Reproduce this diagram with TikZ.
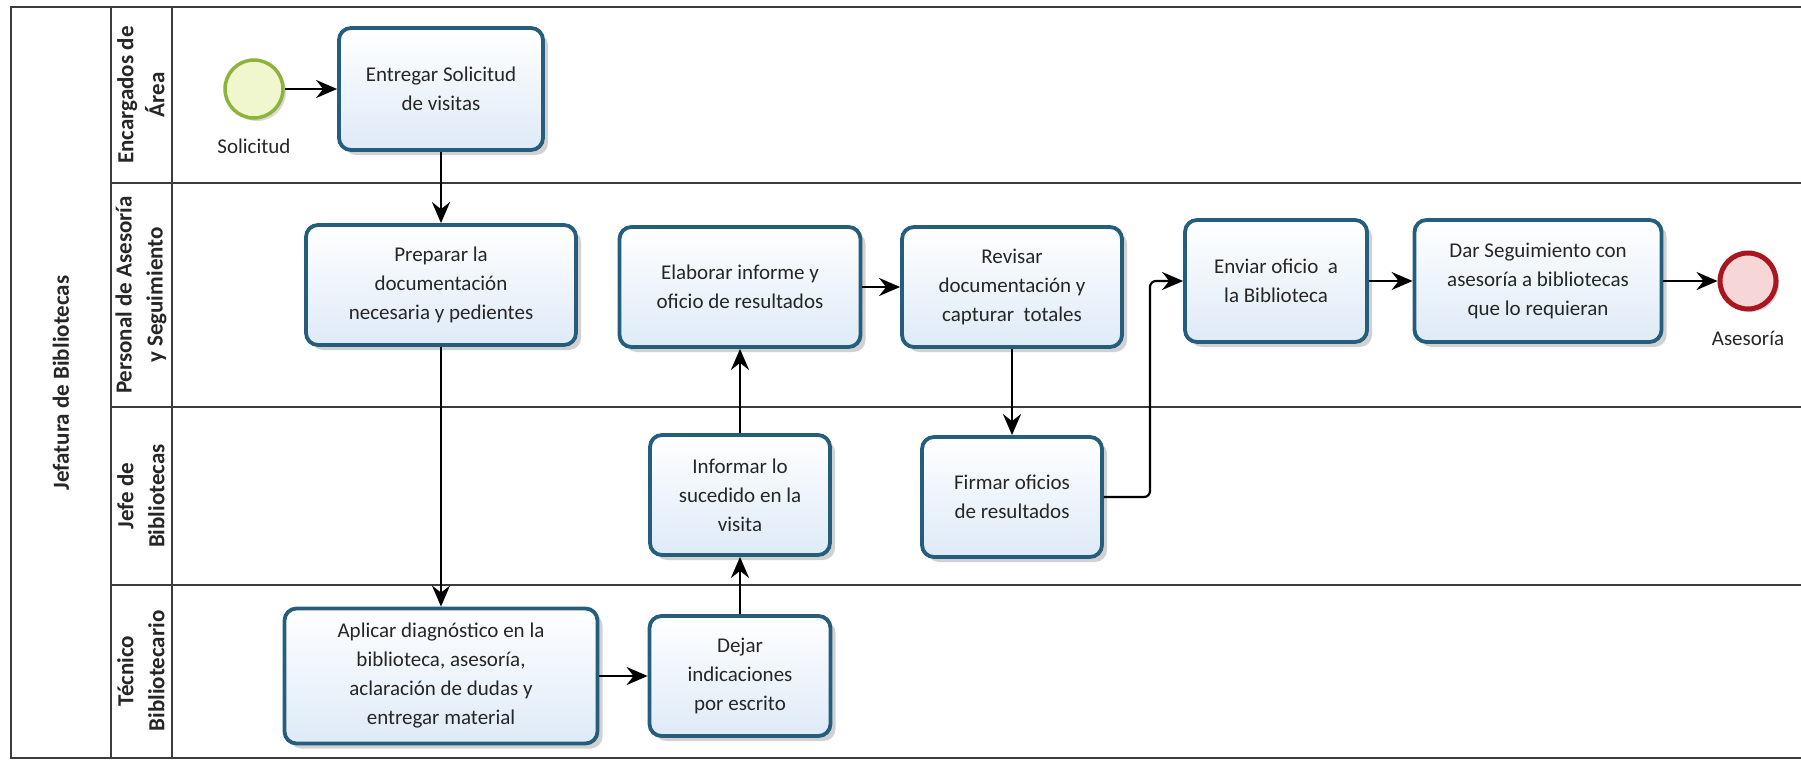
\documentclass[tikz,border=0pt]{standalone}
\usepackage{fontspec}
\setmainfont{Carlito}
\usetikzlibrary{arrows.meta,shadows}

\definecolor{taskline}{RGB}{36,94,124}
\definecolor{taskfill}{RGB}{222,234,247}
\definecolor{startline}{RGB}{140,180,60}
\definecolor{startfill}{RGB}{240,246,205}
\definecolor{endline}{RGB}{170,22,32}
\definecolor{endfill}{RGB}{246,214,214}
\definecolor{frameline}{RGB}{60,60,60}

\begin{document}
\begin{tikzpicture}[x=1pt,y=-1pt,font=\fontsize{21}{29}\selectfont]
\tikzstyle{every node}=[text=black!85]
\tikzstyle{task}=[draw=taskline, line width=3.8pt, rounded corners=12pt, top color=white, bottom color=taskfill,
  align=center, minimum height=120pt, inner sep=4pt,
  drop shadow={shadow xshift=5pt, shadow yshift=-5pt, opacity=0.18, fill=black}]
\tikzstyle{start}=[draw=startline, line width=3.5pt, circle, fill=startfill, minimum size=58pt, inner sep=0pt,
  drop shadow={shadow xshift=3pt, shadow yshift=-3pt, opacity=0.15, fill=black}]
\tikzstyle{finish}=[draw=endline, line width=5pt, circle, fill=endfill, minimum size=56pt, inner sep=0pt,
  drop shadow={shadow xshift=3pt, shadow yshift=-3pt, opacity=0.15, fill=black}]
\tikzstyle{lane}=[rotate=90, align=center, font=\fontsize{23}{31}\selectfont\bfseries]
\tikzstyle{frame}=[draw=frameline, line width=1.6pt]
\tikzstyle{flow}=[line width=2.2pt, -{Stealth[length=21pt,width=18pt,inset=7pt]}]

\useasboundingbox (0,0) rectangle (1801,760);
\fill[white] (0,0) rectangle (1801,760);

\draw[frame] (1801,7) -- (11,7) -- (11,758) -- (1801,758);
\draw[frame] (111,7) -- (111,758);
\draw[frame] (172,7) -- (172,758);
\foreach \y in {183,407,585}
  \draw[frame] (111,\y) -- (1801,\y);

\node[lane] (pool) at (61,383) {Jefatura de Bibliotecas};
\node[lane] (la) at (141,95)  {Encargados de\\Área};
\node[lane] (lb) at (141,295) {Personal de Asesoría\\y Seguimiento};
\node[lane] (lc) at (141,496) {Jefe de\\Bibliotecas};
\node[lane] (ld) at (141,671) {Técnico\\Bibliotecario};

\node[start]  (ns) at ( 254, 89) [label={[label distance=16pt]below:Solicitud}] {};
\node[finish] (ne) at (1748,281) [label={[label distance=16pt]below:Asesoría}] {};

\node[task, minimum width=204pt, minimum height=122pt] (ta) at ( 441, 89) {Entregar Solicitud\\de visitas};
\node[task, minimum width=270pt] (tb) at ( 441,285) {Preparar la\\documentación\\necesaria y pedientes};
\node[task, minimum width=241pt] (tc) at ( 740,287) {Elaborar informe y\\oficio de resultados};
\node[task, minimum width=220pt] (td) at (1012,287) {Revisar\\documentación y\\capturar\ \ totales};
\node[task, minimum width=182pt, minimum height=122pt] (te) at (1276,281) {Enviar oficio\ \ a\\la Biblioteca};
\node[task, minimum width=247pt, minimum height=122pt] (tf) at (1538,281) {Dar Seguimiento con\\asesoría a bibliotecas\\que lo requieran};
\node[task, minimum width=180pt] (tg) at ( 740,495) {Informar lo\\sucedido en la\\visita};
\node[task, minimum width=180pt] (th) at (1012,497) {Firmar oficios\\de resultados};
\node[task, minimum width=313pt, minimum height=135pt] (ti) at ( 441,676) {Aplicar diagnóstico en la\\biblioteca, asesoría,\\aclaración de dudas y\\entregar material};
\node[task, minimum width=181pt] (tj) at ( 740,676) {Dejar\\indicaciones\\por escrito};

\coordinate (bend) at (1150,281);

\draw[flow] (ns) -- (ta);
\draw[flow] (ta) -- (tb);
\draw[flow] (tb) -- (ti);
\draw[flow] (ti) -- (tj);
\draw[flow] (tj) -- (tg);
\draw[flow] (tg) -- (tc);
\draw[flow] (tc) -- (td);
\draw[flow] (td) -- (th);
\draw[flow, rounded corners=6pt] (th.east) -| (bend) -- (te.west);
\draw[flow] (te) -- (tf);
\draw[flow] (tf) -- (ne);
\end{tikzpicture}
\end{document}
